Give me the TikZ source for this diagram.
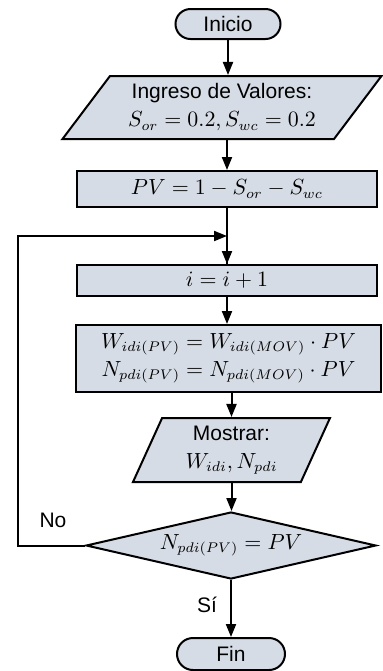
\documentclass[tikz,border=0pt]{standalone}
\usepackage{fontspec}
\setsansfont{Liberation Sans}
\usetikzlibrary{shapes}
\usetikzlibrary{arrows.meta}
\definecolor{boxfill}{HTML}{D6DCE5}

\begin{document}
\begin{tikzpicture}[x=0.5pt, y={(0pt,-0.5pt)}, line width=1pt,
	  every node/.style={font=\sffamily\fontsize{10.5}{14}\selectfont, inner sep=0pt},
	  term/.style={rounded rectangle, draw, fill=boxfill},
	  proc/.style={rectangle, draw, fill=boxfill, align=center},
	  io/.style={trapezium, draw, fill=boxfill, align=center, trapezium stretches body},
	  decision/.style={diamond, draw, fill=boxfill, aspect=4.3},
	  arr/.style={-{Triangle[length=6.5pt, width=5pt]}}]
	  \useasboundingbox (0,0) rectangle (382,671);
	  \node[term, minimum width=52.5pt, minimum height=15pt] (ini) at (228,24) {Inicio};
	  \node[io, trapezium left angle=45, trapezium right angle=135,
	    minimum width=159.5pt, minimum height=31.5pt] (dat) at (222,107.5)
	    {Ingreso de Valores:\\ $S_{or}=0.2, S_{wc}=0.2$};
	  \node[proc, minimum width=150pt, minimum height=18pt] (pv) at (227,189)
	    {$PV=1-S_{or}-S_{wc}$};
	  \node[proc, minimum width=150pt, minimum height=15.5pt] (inc) at (227,280.5) {$i=i+1$};
	  \node[proc, minimum width=152.5pt, minimum height=33.5pt] (upd) at (228.5,358.5)
	    {$W_{idi(PV)}=W_{idi(MOV)}\cdot PV$\\ $N_{pdi(PV)}=N_{pdi(MOV)}\cdot PV$};
	  \node[io, trapezium left angle=59, trapezium right angle=121,
	    minimum width=98.5pt, minimum height=32pt] (mos) at (231.5,450)
	    {Mostrar:\\ $W_{idi}, N_{pdi}$};
	  \node[decision, minimum width=145pt, minimum height=33.5pt] (cmp) at (231,545.5)
	    {$N_{pdi(PV)}=PV$};
	  \node[term, minimum width=54pt, minimum height=16pt] (fin) at (231,654) {Fin};
	  \node (no) at (53,520) {No};
	  \node (si) at (207,605) {Sí};
	  \coordinate (lp) at (18,545.5);
	  \coordinate (jn) at (227,236);

	  \draw[arr] (ini.south) -- (ini.south |- dat.north);
	  \draw[arr] (dat.south -| pv.north) -- (pv.north);
	  \draw (pv.south) -- (inc.north);
	  \draw[arr] (jn) -- (inc.north);
	  \draw[arr] (inc.south) -- (inc.south |- upd.north);
	  \draw[arr] (upd.south -| mos.north) -- (mos.north);
	  \draw[arr] (mos.south) -- (mos.south |- cmp.north);
	  \draw[arr] (cmp.south) -- (fin.north);
	  \draw[arr] (cmp.west) -- (lp) |- (jn);
	\end{tikzpicture}
\end{document}
